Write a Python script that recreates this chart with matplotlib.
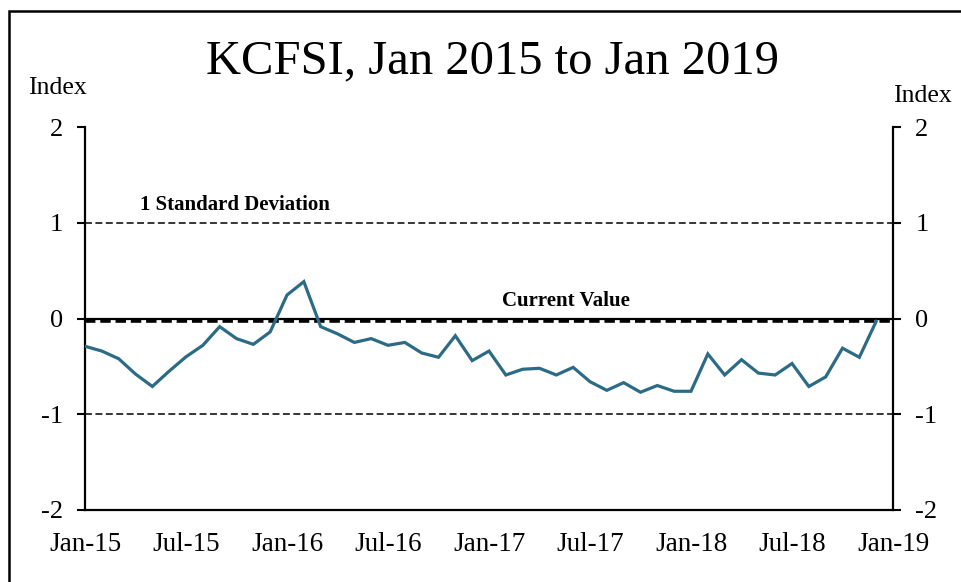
import matplotlib
matplotlib.use("Agg")
import matplotlib.pyplot as plt
from matplotlib.patches import Rectangle
import numpy as np

plt.rcParams['font.family'] = ['Liberation Serif', 'DejaVu Serif']
plt.rcParams['lines.scale_dashes'] = False

title = "KCFSI, Jan 2015 to Jan 2019"
tick_labels = ["Jan-15", "Jul-15", "Jan-16", "Jul-16", "Jan-17", "Jul-17", "Jan-18", "Jul-18", "Jan-19"]
y_ticks = [2, 1, 0, -1, -2]

# Monthly KCFSI, Jan 2015 .. Dec 2018
kcfsi = [
    -0.29, -0.34, -0.42, -0.58, -0.71, -0.55, -0.40, -0.28, -0.085, -0.21, -0.27, -0.14,
    0.245, 0.385, -0.085, -0.16, -0.25, -0.21, -0.28, -0.25, -0.36, -0.405, -0.18, -0.44,
    -0.34, -0.59, -0.53, -0.52, -0.59, -0.51, -0.66, -0.75, -0.67, -0.77, -0.70, -0.76,
    -0.76, -0.37, -0.59, -0.43, -0.57, -0.59, -0.47, -0.71, -0.61, -0.31, -0.405, -0.03,
]
std_dev = 1.0
current_value = kcfsi[-1]
n_months_axis = 48

fig = plt.figure(figsize=(9.61, 5.82), dpi=100)
ax = fig.add_axes([85/961, 72/582, 808/961, 383/582])

x = np.arange(len(kcfsi))
ax.plot(x, kcfsi, color='#2C6B85', lw=2.3, solid_joinstyle='miter', zorder=5)

ax.axhline(0, color='black', lw=1.6, zorder=3)
ax.axhline(current_value, color='black', lw=2.6, dashes=(7.5, 3.5), zorder=4)
ax.axhline(std_dev, color='black', lw=1.1, dashes=(5, 2.5), zorder=3)
ax.axhline(-std_dev, color='black', lw=1.1, dashes=(5, 2.5), zorder=3)

ax.text(8.9, 1.19, "1 Standard Deviation", ha='center', va='center', fontsize=15, fontweight='bold')
ax.text(28.6, 0.18, "Current Value", ha='center', va='center', fontsize=15, fontweight='bold')

ax.set_xlim(0, n_months_axis)
ax.set_ylim(-2, 2)
ax.set_xticks(np.arange(0, n_months_axis + 1, 6))
ax.set_xticklabels(tick_labels)
ax.set_yticks(y_ticks)
ax.set_yticklabels([str(v) for v in y_ticks])

ax.tick_params(axis='x', length=0, pad=16, labelsize=19.5)
ax.tick_params(axis='y', length=6, width=1.5, direction='out', pad=10, labelsize=19,
               left=True, right=True, labelleft=True, labelright=True)
for s in ['left', 'right', 'bottom']:
    ax.spines[s].set_linewidth(1.6)
ax.spines['top'].set_visible(False)

fig.text(492/961, 1 - 61/582, title, ha='center', va='center', fontsize=35)
fig.text(57/961, 1 - 88/582, "Index", ha='center', va='center', fontsize=18.5)
fig.text(922/961, 1 - 96/582, "Index", ha='center', va='center', fontsize=18.5)

fig.patches.append(Rectangle((9/961, -0.05), 1.2, 1 - 11/582 + 0.05, transform=fig.transFigure,
                             fill=False, edgecolor='black', lw=1.8))

fig.savefig("out.png", dpi=100)
